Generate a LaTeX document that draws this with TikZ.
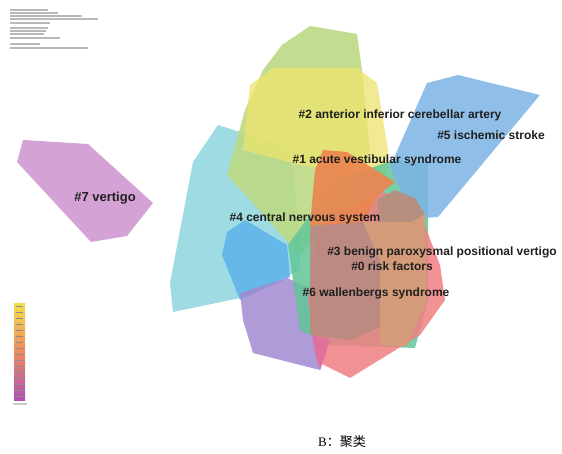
\documentclass[tikz,border=0pt]{standalone}
\usepackage{fontspec}
\setmainfont{Liberation Sans}
\newfontfamily\capserif{Liberation Serif}
\newfontfamily\cjk{Noto Sans CJK SC}
\definecolor{colA}{HTML}{CE92CE}
\definecolor{colC}{HTML}{8ED5DD}
\definecolor{colG}{HTML}{BCDA84}
\definecolor{colY}{HTML}{EEE46E}
\definecolor{colD}{HTML}{5DB3EA}
\definecolor{colE}{HTML}{A08AD0}
\definecolor{colF}{HTML}{62C698}
\definecolor{colB}{HTML}{7CB4E6}
\definecolor{colO}{HTML}{EC8650}
\definecolor{colR}{HTML}{F07F82}
\definecolor{colM}{HTML}{BB8B82}
\definecolor{colT}{HTML}{D49D7B}
\definecolor{colK}{HTML}{B3907F}
\definecolor{colP}{HTML}{E0709E}
\definecolor{barTop}{HTML}{F2DE4E}
\definecolor{barMid}{HTML}{EE8A5E}
\definecolor{barBot}{HTML}{B04FB8}
\begin{document}
\begin{tikzpicture}[x=1pt,y=-1pt,
  hull/.style={draw=none,fill opacity=0.85},
  patch/.style={draw=none,fill opacity=0.92},
  lab/.style={font=\fontsize{12}{14}\selectfont\bfseries,text=black!88,inner sep=0pt},
  tinyline/.style={fill=black!28,draw=none}]
\useasboundingbox (0,0) rectangle (562,454);
\fill[white] (0,0) rectangle (562,454);
% top-left tiny legend text (illegible) as gray bars
\foreach \yy/\ll in {9/38,12/48,15/72,18/88,22/40,27/38,30/36,33/34,37/50,43/30,47/78}{
  \fill[tinyline] (10,\yy) rectangle (10+\ll,\yy+1.6);
}
% #7 vertigo
\fill[hull,fill=colA] (23,140) -- (88,144) -- (153,203) -- (127,236) -- (91,242) -- (17,162) -- cycle;
% cyan
\fill[hull,fill=colC] (218,125) -- (290,148) -- (300,230) -- (300,270) -- (240,298) -- (173,312) -- (170,283) -- (193,162) -- cycle;
% green
\fill[hull,fill=colG,fill opacity=0.9] (282,45) -- (310,26) -- (357,34) -- (362,70) -- (370,150) -- (350,200) -- (300,255) -- (227,175) -- (245,110) -- (263,70) -- cycle;
% yellow
\fill[hull,fill=colY,fill opacity=0.75] (250,85) -- (273,68) -- (357,68) -- (377,83) -- (388,150) -- (385,180) -- (330,170) -- (300,165) -- (243,150) -- cycle;
% left blue
\fill[hull,fill=colD] (227,232) -- (245,220) -- (287,245) -- (290,277) -- (240,300) -- (222,255) -- cycle;
% purple
\fill[hull,fill=colE] (240,293) -- (287,278) -- (315,290) -- (330,340) -- (320,370) -- (253,353) -- (243,320) -- cycle;
% teal
\fill[hull,fill=colF] (288,245) -- (310,215) -- (340,178) -- (395,160) -- (428,163) -- (428,300) -- (415,348) -- (330,345) -- (300,330) -- cycle;
% right blue
\fill[hull,fill=colB] (427,83) -- (458,75) -- (540,95) -- (438,217) -- (423,218) -- (405,200) -- (390,167) -- cycle;
% red
\fill[hull,fill=colR] (308,300) -- (318,228) -- (380,192) -- (415,200) -- (440,265) -- (445,300) -- (420,335) -- (350,378) -- (318,362) -- cycle;
% pink overlap purple/red
\fill[patch,fill=colP] (312,335) -- (330,340) -- (320,370) -- (316,358) -- cycle;
% orange top
\fill[patch,fill=colO] (315,170) -- (323,150) -- (347,152) -- (395,182) -- (377,196) -- (363,222) -- (310,226) -- cycle;
% grey-mauve blob
\fill[patch,fill=colK] (377,200) -- (395,190) -- (415,198) -- (425,214) -- (412,222) -- (380,222) -- cycle;
% mauve-brown centre
\fill[patch,fill=colM] (310,226) -- (363,222) -- (380,260) -- (380,327) -- (352,340) -- (310,335) -- cycle;
% tan centre right
\fill[patch,fill=colT] (363,222) -- (380,222) -- (412,222) -- (425,214) -- (427,300) -- (407,346) -- (380,346) -- (380,260) -- cycle;
% labels
\node[lab] (l2) at (400,115) {\#2 anterior inferior cerebellar artery};
\node[lab] (l5) at (491,135) {\#5 ischemic stroke};
\node[lab] (l1) at (377,160) {\#1 acute vestibular syndrome};
\node[lab] (l4) at (305,218) {\#4 central nervous system};
\node[lab] (l3) at (442,252) {\#3 benign paroxysmal positional vertigo};
\node[lab] (l0) at (392,266) {\#0 risk factors};
\node[lab] (l6) at (376,293) {\#6 wallenbergs syndrome};
\node[lab,font=\fontsize{13}{15}\selectfont\bfseries] (l7) at (105,198) {\#7 vertigo};
% colour bar
\shade[top color=barTop,bottom color=barBot,middle color=barMid] (14,303) rectangle (25,400);
\foreach \yy in {306,312,...,396}{
  \fill[black!45] (16,\yy) rectangle (23,\yy+1.2);
}
\fill[black!20] (13,403) rectangle (27,405);
% caption
\node[inner sep=0pt] (cap) at (342,442) {\fontsize{13}{15}\selectfont\capserif B\cjk ：聚类};
\end{tikzpicture}
\end{document}
